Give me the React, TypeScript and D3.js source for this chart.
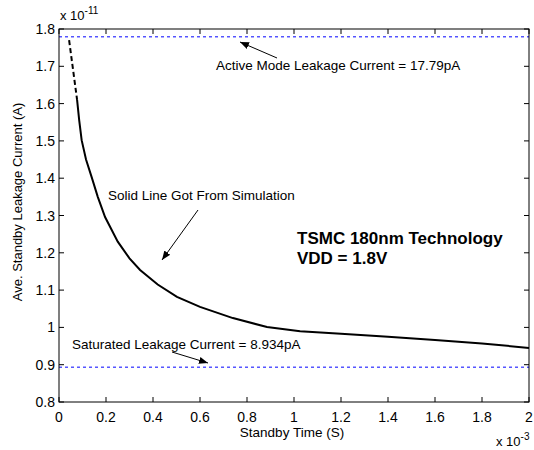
import React, { useEffect, useRef } from "react";
import * as d3 from "d3";

// standby time in units of 1e-3 s, leakage in units of 1e-11 A
const dashedTime = [0.043, 0.06, 0.077];
const dashedLeak = [1.77, 1.69, 1.61];
const solidTime = [0.077, 0.086, 0.0964, 0.115, 0.139, 0.165, 0.196, 0.25, 0.3, 0.345, 0.42, 0.502, 0.6, 0.74, 0.885, 1.026, 1.2, 1.4, 1.6, 1.8, 2.0];
const solidLeak = [1.61, 1.555, 1.502, 1.45, 1.403, 1.35, 1.296, 1.23, 1.185, 1.154, 1.115, 1.082, 1.055, 1.025, 1.001, 0.99, 0.983, 0.975, 0.966, 0.957, 0.945];
const activeLeak = 1.779;
const saturatedLeak = 0.8934;
const xTicks = [0, 0.2, 0.4, 0.6, 0.8, 1, 1.2, 1.4, 1.6, 1.8, 2];
const yTicks = [0.8, 0.9, 1, 1.1, 1.2, 1.3, 1.4, 1.5, 1.6, 1.7, 1.8];

const W = 534, H = 450;
const left = 59, right = 529, top = 29, bottom = 402;
const font = "Arial, 'Liberation Sans', sans-serif";

const App = () => {
  const ref = useRef(null);

  useEffect(() => {
    const svg = d3.select(ref.current);
    svg.selectAll("*").remove();

    const x = d3.scaleLinear().domain([0, 2]).range([left, right]);
    const y = d3.scaleLinear().domain([0.8, 1.8]).range([bottom, top]);

    svg.append("defs").append("marker")
      .attr("id", "arr").attr("viewBox", "0 0 10 10")
      .attr("refX", 10).attr("refY", 5)
      .attr("markerWidth", 9).attr("markerHeight", 9)
      .attr("markerUnits", "userSpaceOnUse")
      .attr("orient", "auto")
      .append("path").attr("d", "M0,1 L10,5 L0,9 Z").attr("fill", "#000");

    svg.append("rect").attr("x", left).attr("y", top)
      .attr("width", right - left).attr("height", bottom - top)
      .attr("fill", "#fff");

    // blue reference lines
    [activeLeak, saturatedLeak].forEach(v => {
      svg.append("line")
        .attr("x1", left).attr("x2", right)
        .attr("y1", y(v)).attr("y2", y(v))
        .attr("stroke", "#0000ff").attr("stroke-width", 1)
        .attr("stroke-dasharray", "3,3");
    });

    const line = d3.line<number>()
      .x(d => x(d[0])).y(d => y(d[1]));

    svg.append("path")
      .attr("d", line(dashedTime.map((t, i) => [t, dashedLeak[i]])))
      .attr("fill", "none").attr("stroke", "#000").attr("stroke-width", 2)
      .attr("stroke-dasharray", "5,3");
    svg.append("path")
      .attr("d", line(solidTime.map((t, i) => [t, solidLeak[i]])))
      .attr("fill", "none").attr("stroke", "#000").attr("stroke-width", 2);

    // axes box with inner ticks
    const g = svg.append("g").attr("stroke", "#000").attr("stroke-width", 1);
    g.append("rect").attr("x", left).attr("y", top)
      .attr("width", right - left).attr("height", bottom - top)
      .attr("fill", "none");
    xTicks.forEach(t => {
      g.append("line").attr("x1", x(t)).attr("x2", x(t)).attr("y1", bottom).attr("y2", bottom - 5);
      g.append("line").attr("x1", x(t)).attr("x2", x(t)).attr("y1", top).attr("y2", top + 5);
    });
    yTicks.forEach(t => {
      g.append("line").attr("y1", y(t)).attr("y2", y(t)).attr("x1", left).attr("x2", left + 5);
      g.append("line").attr("y1", y(t)).attr("y2", y(t)).attr("x1", right).attr("x2", right - 5);
    });

    const txt = svg.append("g").attr("font-family", font).attr("fill", "#000");
    xTicks.forEach(t => {
      txt.append("text").attr("x", x(t)).attr("y", bottom + 20)
        .attr("text-anchor", "middle").attr("font-size", 14)
        .text(t === 0 || t === 1 || t === 2 ? String(t) : t.toFixed(1));
    });
    yTicks.forEach(t => {
      txt.append("text").attr("x", left - 4).attr("y", y(t) + 5)
        .attr("text-anchor", "end").attr("font-size", 14)
        .text(t === 1 ? "1" : t.toFixed(1));
    });

    const exp = (xx, yy, p) => {
      const e = txt.append("text").attr("x", xx).attr("y", yy).attr("font-size", 13);
      e.append("tspan").text("x 10");
      e.append("tspan").attr("dy", -6).attr("font-size", 10).text(p);
    };
    exp(60, 20, "-11");
    exp(496, 446, "-3");

    txt.append("text").attr("x", 292).attr("y", 437)
      .attr("text-anchor", "middle").attr("font-size", 13.5).text("Standby Time (S)");
    txt.append("text").attr("transform", `translate(22,202) rotate(-90)`)
      .attr("text-anchor", "middle").attr("font-size", 13).text("Ave. Standby Leakage Current (A)");

    txt.append("text").attr("x", 216).attr("y", 70).attr("font-size", 13.5)
      .text("Active Mode Leakage Current = 17.79pA");
    txt.append("text").attr("x", 72).attr("y", 349).attr("font-size", 13.5)
      .text("Saturated Leakage Current = 8.934pA");
    txt.append("text").attr("x", 108).attr("y", 200).attr("font-size", 13.5)
      .text("Solid Line Got From Simulation");
    txt.append("text").attr("x", 297).attr("y", 244).attr("font-size", 17).attr("font-weight", "bold")
      .text("TSMC 180nm Technology");
    txt.append("text").attr("x", 297).attr("y", 264).attr("font-size", 17).attr("font-weight", "bold")
      .text("VDD = 1.8V");

    const arrows = [
      [277, 58, 240, 42],
      [172, 352, 208, 363],
      [198, 210, 162, 260],
    ];
    arrows.forEach(a => {
      svg.append("line").attr("x1", a[0]).attr("y1", a[1]).attr("x2", a[2]).attr("y2", a[3])
        .attr("stroke", "#000").attr("stroke-width", 1).attr("marker-end", "url(#arr)");
    });
  }, []);

  return (
    <svg ref={ref} width={W} height={H}
      style={{ position: "absolute", left: 0, top: 0, background: "#fff" }} />
  );
};

export default App;
